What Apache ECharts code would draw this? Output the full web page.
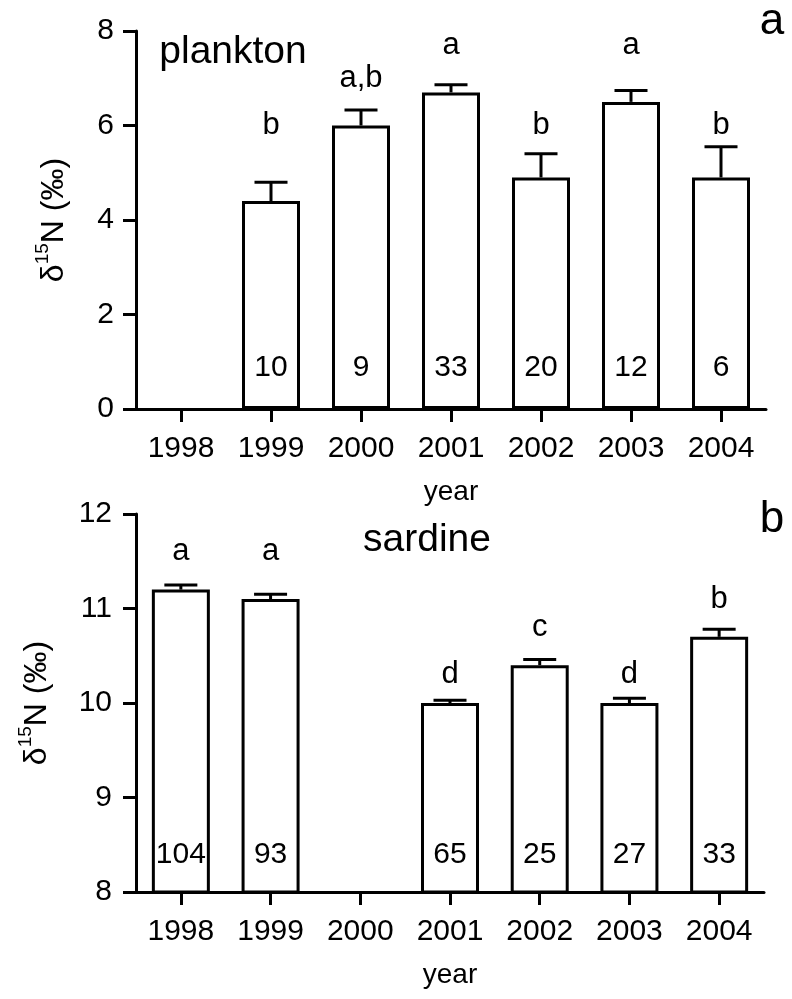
<!DOCTYPE html>
<html>
<head>
<meta charset="utf-8">
<script src="https://cdn.jsdelivr.net/npm/echarts@6/dist/echarts.min.js"></script>
<style>
  html, body { margin: 0; padding: 0; background: #fff; }
  #chart { width: 792px; height: 999px; }
</style>
</head>
<body>
<div id="chart"></div>
<script>
// Years sampled
const years = ['1998', '1999', '2000', '2001', '2002', '2003', '2004'];

// Panel a: plankton δ15N (mean, standard error, sample size, significance group)
const planktonMean = [null, 4.4, 6.0, 6.7, 4.9, 6.5, 4.9];
const planktonSE = [null, 0.4, 0.33, 0.16, 0.5, 0.24, 0.65];
const planktonN = [null, 10, 9, 33, 20, 12, 6];
const planktonGroup = ['', 'b', 'a,b', 'a', 'b', 'a', 'b'];

// Panel b: sardine δ15N
const sardineMean = [11.2, 11.1, null, 10.0, 10.4, 10.0, 10.7];
const sardineSE = [0.05, 0.05, null, 0.03, 0.06, 0.05, 0.08];
const sardineN = [104, 93, null, 65, 25, 27, 33];
const sardineGroup = ['a', 'a', '', 'd', 'c', 'd', 'b'];

// Y axis ticks
const planktonTicks = { min: 0, max: 8, interval: 2 };
const sardineTicks = { min: 8, max: 12, interval: 1 };

// ---- layout ----
// Heights (in axis units) at which the group letters sit
const planktonLetterAt = [null, 6.0, 7.0, 7.7, 6.0, 7.7, 6.0];
const sardineLetterAt = [11.6, 11.6, null, 10.3, 10.8, 10.3, 11.1];

const FONT = '"Liberation Sans", Arial, Helvetica, sans-serif';
const LINE_W = 3;

function valueAxis(gridIndex, ticks, nameGap, labelMargin) {
  return {
    type: 'value',
    gridIndex: gridIndex,
    min: ticks.min,
    max: ticks.max,
    interval: ticks.interval,
    name: '{d|δ}{s|15}{d|N (‰)}',
    nameLocation: 'middle',
    nameGap: nameGap,
    nameTextStyle: {
      color: '#000',
      rich: {
        d: { fontSize: 32, lineHeight: 42, fontFamily: FONT, color: '#000' },
        s: { fontSize: 19, lineHeight: 19, fontFamily: FONT, color: '#000', verticalAlign: 'top' }
      }
    },
    axisLine: { show: true, lineStyle: { color: '#000', width: LINE_W } },
    axisTick: { show: true, length: 13, lineStyle: { color: '#000', width: LINE_W } },
    axisLabel: { color: '#000', fontSize: 30, fontFamily: FONT, margin: labelMargin },
    splitLine: { show: false }
  };
}

function categoryAxis(gridIndex) {
  return {
    type: 'category',
    gridIndex: gridIndex,
    data: years,
    boundaryGap: true,
    name: 'year',
    nameLocation: 'middle',
    nameGap: 69,
    nameTextStyle: { color: '#000', fontSize: 28, fontFamily: FONT },
    axisLine: { show: true, lineStyle: { color: '#000', width: LINE_W } },
    axisTick: { show: true, alignWithLabel: true, length: 13, lineStyle: { color: '#000', width: LINE_W } },
    axisLabel: { color: '#000', fontSize: 30, fontFamily: FONT, margin: 25 },
    splitLine: { show: false }
  };
}

function barSeries(idx, means, counts, distance) {
  return {
    type: 'bar',
    xAxisIndex: idx,
    yAxisIndex: idx,
    barWidth: 58,
    data: means.map(v => (v === null ? '-' : v)),
    itemStyle: { color: '#fff', borderColor: '#000', borderWidth: LINE_W },
    label: {
      show: true,
      position: 'insideBottom',
      distance: distance,
      color: '#000',
      fontSize: 30,
      fontFamily: FONT,
      formatter: p => (counts[p.dataIndex] === null ? '' : String(counts[p.dataIndex]))
    },
    z: 2
  };
}

function errorSeries(idx, means, ses) {
  const data = [];
  means.forEach((m, i) => { if (m !== null) data.push([i, m, ses[i]]); });
  return {
    type: 'custom',
    xAxisIndex: idx,
    yAxisIndex: idx,
    data: data,
    z: 3,
    clip: false,
    renderItem: function (params, api) {
      const i = api.value(0);
      const base = api.coord([i, api.value(1)]);
      const top = api.coord([i, api.value(1) + api.value(2)]);
      const half = 16.5;
      const style = { stroke: '#000', lineWidth: LINE_W };
      return {
        type: 'group',
        children: [
          { type: 'line', shape: { x1: base[0], y1: base[1], x2: top[0], y2: top[1] }, style: style },
          { type: 'line', shape: { x1: top[0] - half, y1: top[1], x2: top[0] + half, y2: top[1] }, style: style }
        ]
      };
    }
  };
}

function letterSeries(idx, groups, levels) {
  const data = [];
  groups.forEach((g, i) => { if (g) data.push([i, levels[i], g]); });
  return {
    type: 'custom',
    xAxisIndex: idx,
    yAxisIndex: idx,
    data: data,
    z: 4,
    clip: false,
    renderItem: function (params, api) {
      const pt = api.coord([api.value(0), api.value(1)]);
      return {
        type: 'text',
        x: pt[0],
        y: pt[1],
        style: {
          text: data[params.dataIndex][2],
          fill: '#000',
          fontSize: 31,
          fontFamily: FONT,
          align: 'center',
          verticalAlign: 'middle'
        }
      };
    }
  };
}

function panelText(text, x, y, size) {
  return {
    type: 'text',
    x: x,
    y: y,
    style: {
      text: text,
      fill: '#000',
      fontSize: size,
      fontFamily: FONT,
      align: 'center',
      verticalAlign: 'middle'
    }
  };
}

const chart = echarts.init(document.getElementById('chart'), null, { renderer: 'canvas' });

chart.setOption({
  backgroundColor: '#fff',
  animation: false,
  grid: [
    { left: 136, right: 26, top: 31, height: 378 },
    { left: 136, right: 28, top: 514, height: 378 }
  ],
  xAxis: [categoryAxis(0), categoryAxis(1)],
  yAxis: [valueAxis(0, planktonTicks, 61, 22), valueAxis(1, sardineTicks, 78, 24)],
  series: [
    barSeries(0, planktonMean, planktonN, 26),
    errorSeries(0, planktonMean, planktonSE),
    letterSeries(0, planktonGroup, planktonLetterAt),
    barSeries(1, sardineMean, sardineN, 24),
    errorSeries(1, sardineMean, sardineSE),
    letterSeries(1, sardineGroup, sardineLetterAt)
  ],
  graphic: [
    panelText('plankton', 233, 52, 39),
    panelText('sardine', 427, 540, 39),
    panelText('a', 772, 22, 44),
    panelText('b', 772, 520, 44)
  ]
});
</script>
</body>
</html>
